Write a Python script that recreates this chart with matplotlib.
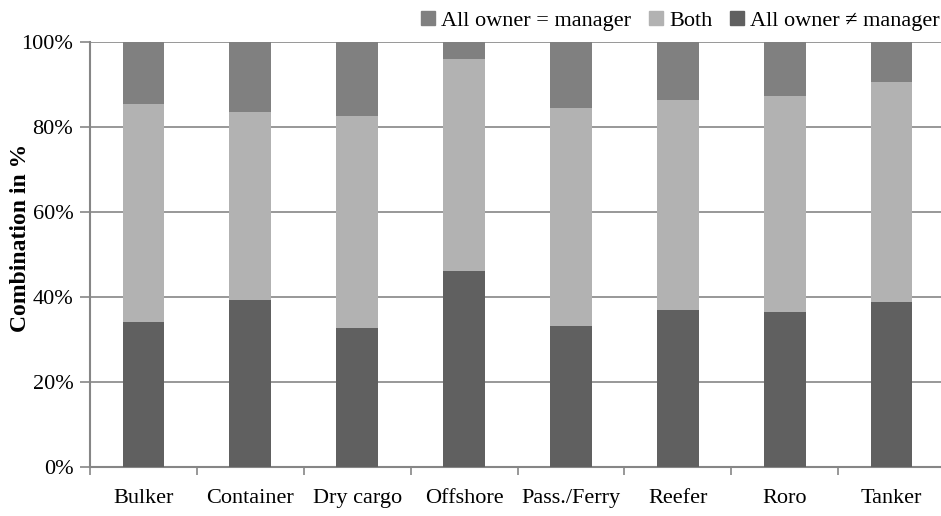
import numpy as np
import matplotlib
matplotlib.use('Agg')
import matplotlib.pyplot as plt
from matplotlib.patches import Patch
from matplotlib.ticker import PercentFormatter

# Ship types and share of each owner/manager combination (in %)
categories = ['Bulker', 'Container', 'Dry cargo', 'Offshore', 'Pass./Ferry', 'Reefer', 'Roro', 'Tanker']
owner_ne_manager = [34.1, 39.3, 32.7, 46.2, 33.1, 36.9, 36.5, 38.8]
both = [51.4, 44.3, 49.9, 49.7, 51.4, 49.5, 50.8, 51.9]
owner_eq_manager = [100 - a - b for a, b in zip(owner_ne_manager, both)]

c_eq = '#808080'
c_both = '#b2b2b2'
c_ne = '#606060'
axis_grey = '#868686'

plt.rcParams['font.family'] = ['Liberation Serif', 'DejaVu Serif']

fig = plt.figure(figsize=(9.41, 5.16), dpi=100)
ax = fig.add_axes([90 / 941, 1 - 467 / 516, 855 / 941, 425 / 516])

x = np.arange(len(categories))
w = 0.39
bottom2 = np.array(owner_ne_manager)
bottom3 = bottom2 + np.array(both)
ax.bar(x, owner_ne_manager, w, color=c_ne, zorder=3)
ax.bar(x, both, w, bottom=bottom2, color=c_both, zorder=3)
ax.bar(x, owner_eq_manager, w, bottom=bottom3, color=c_eq, zorder=3)

ax.set_xlim(-0.5, len(categories) - 0.5)
ax.set_ylim(0, 100)
ax.set_yticks(np.arange(0, 101, 20))
ax.yaxis.set_major_formatter(PercentFormatter(decimals=0))
ax.yaxis.grid(True, color=axis_grey, linewidth=1.2, zorder=0)

ax.set_xticks(x)
ax.set_xticklabels(categories, fontsize=16)
ax.set_xticks(np.arange(-0.5, len(categories), 1), minor=True)
ax.tick_params(axis='x', which='major', length=0, pad=16)
ax.tick_params(axis='x', which='minor', length=6, width=1.2, color=axis_grey)
ax.tick_params(axis='y', labelsize=16, length=7, width=1.2, color=axis_grey, pad=5)

for s in ['top', 'right']:
    ax.spines[s].set_visible(False)
for s in ['left', 'bottom']:
    ax.spines[s].set_color(axis_grey)
    ax.spines[s].set_linewidth(1.5)

ax.set_ylabel('Combination in %', fontsize=17, fontweight='bold')
ax.yaxis.set_label_coords(-0.069, 0.54)

handles = [Patch(color=c_eq, label='All owner = manager'),
           Patch(color=c_both, label='Both'),
           Patch(color=c_ne, label='All owner \u2260 manager')]
fig.legend(handles=handles, loc='upper right', bbox_to_anchor=(1.02, 1.018), ncol=3,
           frameon=False, fontsize=16, handlelength=0.6, handleheight=0.6,
           handletextpad=0.3, columnspacing=0.8)

plt.savefig('out.png', dpi=100)
